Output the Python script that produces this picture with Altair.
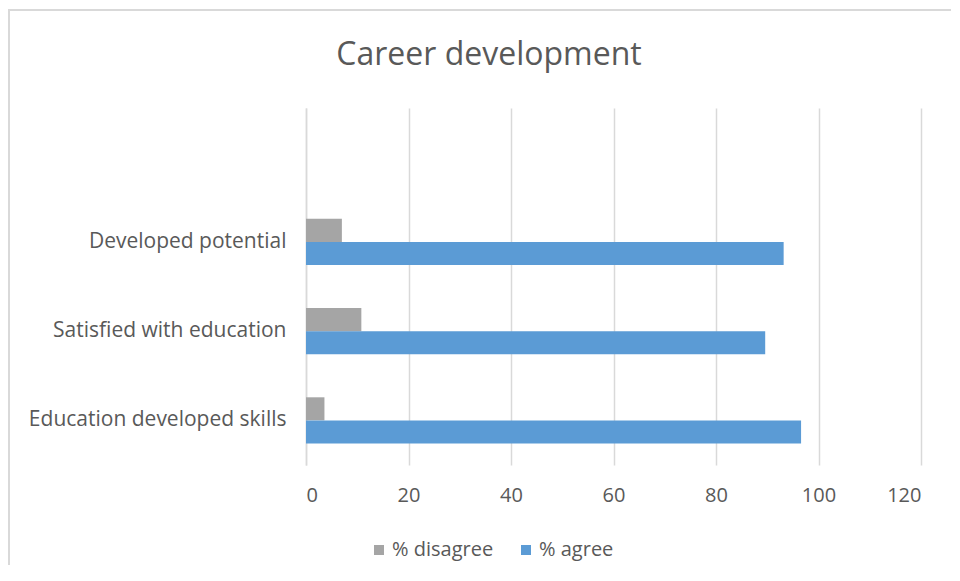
import altair as alt
import pandas as pd

categories = ["Developed potential", "Satisfied with education", "Education developed skills"]
disagree = [7.0, 10.8, 3.6]
agree = [93.2, 89.6, 96.6]
series = ["% disagree", "% agree"]
colors = ["#A5A5A5", "#5B9BD5"]
x_ticks = [0, 20, 40, 60, 80, 100, 120]
title_text = "Career development"

rows = []
for c, d, a in zip(categories, disagree, agree):
    rows.append({"category": c, "series": series[0], "value": d})
    rows.append({"category": c, "series": series[1], "value": a})
df = pd.DataFrame(rows)

FONT = "Open Sans"
TXT = "#595959"
GRID = "#D9D9D9"

y_domain = [" "] + categories

bars = alt.Chart(df).mark_bar(stroke=None).encode(
    x=alt.X("value:Q",
            scale=alt.Scale(domain=[0, 120], nice=False, zero=True),
            axis=alt.Axis(values=x_ticks, title=None, domain=False, ticks=False, tickSize=0,
                          labelPadding=20, labelFontSize=20, labelColor=TXT, labelFont=FONT,
                          grid=True, gridColor=GRID, gridWidth=1.5)),
    y=alt.Y("category:N",
            scale=alt.Scale(domain=y_domain, paddingInner=0.483, paddingOuter=0.2415),
            axis=alt.Axis(title=None, ticks=False, tickSize=0, domain=True, domainColor=GRID,
                          domainWidth=1.5, labelPadding=20, labelFontSize=21, labelColor=TXT,
                          labelFont=FONT, labelLimit=0, grid=False)),
    yOffset=alt.YOffset("series:N", scale=alt.Scale(domain=series, paddingInner=0, paddingOuter=0)),
    color=alt.Color("series:N",
                    scale=alt.Scale(domain=series, range=colors),
                    legend=alt.Legend(title=None, orient="none", direction="horizontal",
                                      legendX=63, legendY=432, symbolType="square",
                                      symbolSize=100, symbolStrokeWidth=0, labelFontSize=20,
                                      labelColor=TXT, labelFont=FONT, columnPadding=22,
                                      labelOffset=3, padding=0)),
)

border = alt.Chart(alt.Data(values=[{}])).mark_rect(
    fill=None, stroke=GRID, strokeWidth=2
).encode(
    x=alt.value(-297), x2=alt.value(800), y=alt.value(-98), y2=alt.value(600)
)

title = alt.Chart(alt.Data(values=[{"t": title_text}])).mark_text(
    font=FONT, fontSize=32, color=TXT, align="center", baseline="alphabetic"
).encode(
    text="t:N", x=alt.value(183), y=alt.value(-43)
)

chart = alt.layer(border, title, bars).properties(
    width=615,
    height=357,
    padding={"left": 298, "top": 100, "right": 30, "bottom": 100},
    autosize=alt.AutoSizeParams(type="none"),
).configure_view(stroke=None)

chart.save("out.html", embed_options={"renderer": "svg", "actions": False})
